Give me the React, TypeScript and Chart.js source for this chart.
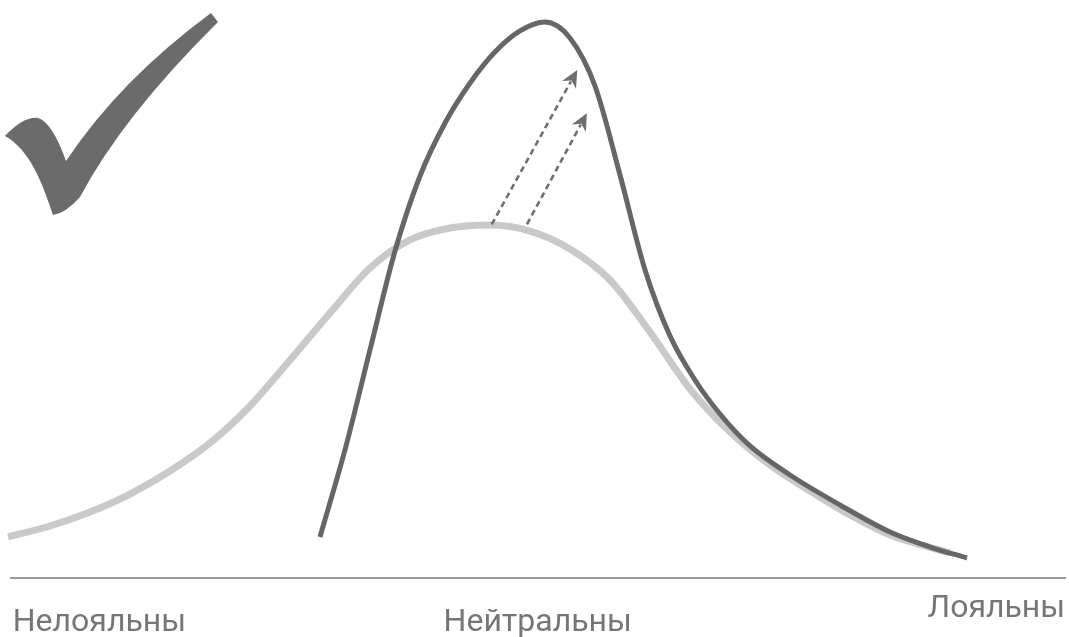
import React, { useEffect, useRef } from "react";
import { Chart, registerables } from "chart.js";

Chart.register(...registerables);

// Horizontal axis: loyalty (0 = disloyal, 100 = loyal); vertical axis: share of customers
const lightX = [0.75, 4.68, 8.42, 12.16, 15.9, 19.64, 23.39, 27.13, 30.87, 34.61, 38.35, 42.1, 45.84, 49.58, 53.32, 57.06, 60.8, 64.55, 68.29, 72.03, 75.77, 79.51, 83.26, 88.87];
const lightY = [7.09, 9.0, 11.42, 14.53, 18.51, 23.36, 29.76, 37.72, 45.85, 53.63, 58.48, 60.55, 61.07, 60.03, 56.92, 51.56, 42.56, 32.7, 25.26, 19.55, 15.05, 10.9, 7.44, 4.33];

const darkX = [29.93, 32.27, 34.61, 36.95, 39.29, 41.63, 43.97, 46.3, 48.64, 50.98, 53.32, 55.66, 58.0, 60.34, 62.68, 65.01, 67.35, 70.16, 73.9, 78.58, 83.26, 87.0, 90.46];
const darkY = [7.09, 22.15, 39.45, 56.57, 69.55, 78.72, 85.64, 91.0, 94.64, 96.19, 93.43, 85.12, 69.72, 53.29, 41.87, 34.26, 28.37, 22.84, 17.82, 12.63, 7.96, 5.36, 3.46];

const arrowStartX = [46.0, 49.3];
const arrowStartY = [61.2, 61.2];
const arrowEndX = [54.0, 54.9];
const arrowEndY = [87.9, 80.4];

const axisLabels = ["Нелояльны", "Нейтральны", "Лояльны"];
const axisLabelX = [9.3, 50.3, 93.2];

const toPoints = (xs: number[], ys: number[]) => xs.map((x, i) => ({ x, y: ys[i] }));

const decorPlugin = {
  id: "decor",
  afterDatasetsDraw(chart: any) {
    const { ctx, scales, chartArea } = chart;
    const xs = scales.x;
    const ys = scales.y;
    ctx.save();

    // baseline axis
    const by = ys.getPixelForValue(0);
    ctx.strokeStyle = "#9a9a9a";
    ctx.lineWidth = 2;
    ctx.beginPath();
    ctx.moveTo(chartArea.left + 10, by);
    ctx.lineTo(chartArea.right - 3, by);
    ctx.stroke();

    // dashed arrows
    for (let i = 0; i < arrowStartX.length; i++) {
      const x0 = xs.getPixelForValue(arrowStartX[i]);
      const y0 = ys.getPixelForValue(arrowStartY[i]);
      const x1 = xs.getPixelForValue(arrowEndX[i]);
      const y1 = ys.getPixelForValue(arrowEndY[i]);
      const ang = Math.atan2(y1 - y0, x1 - x0);
      const head = 17;
      const half = 8;
      const lx = x1 - Math.cos(ang) * head;
      const ly = y1 - Math.sin(ang) * head;
      ctx.strokeStyle = "#6f6f6f";
      ctx.lineWidth = 2.6;
      ctx.setLineDash([6, 4]);
      ctx.beginPath();
      ctx.moveTo(x0, y0);
      ctx.lineTo(lx + Math.cos(ang) * 4, ly + Math.sin(ang) * 4);
      ctx.stroke();
      ctx.setLineDash([]);
      ctx.fillStyle = "#6f6f6f";
      ctx.beginPath();
      ctx.moveTo(x1, y1);
      ctx.lineTo(lx + Math.cos(ang + Math.PI / 2) * half, ly + Math.sin(ang + Math.PI / 2) * half);
      ctx.lineTo(lx + Math.cos(ang) * 5, ly + Math.sin(ang) * 5);
      ctx.lineTo(lx - Math.cos(ang + Math.PI / 2) * half, ly - Math.sin(ang + Math.PI / 2) * half);
      ctx.closePath();
      ctx.fill();
    }

    // check mark decoration
    ctx.fillStyle = "#6b6b6b";
    ctx.beginPath();
    ctx.moveTo(5, 136);
    ctx.quadraticCurveTo(24, 116, 38, 118);
    ctx.quadraticCurveTo(52, 122, 66, 161);
    ctx.quadraticCurveTo(120, 80, 211, 13);
    ctx.lineTo(218, 22);
    ctx.quadraticCurveTo(123, 116, 80, 197);
    ctx.quadraticCurveTo(66, 213, 53, 215);
    ctx.bezierCurveTo(42, 182, 30, 150, 5, 136);
    ctx.closePath();
    ctx.fill();

    // axis labels
    ctx.font = "32px Roboto";
    ctx.fillStyle = "#767676";
    ctx.textAlign = "center";
    ctx.textBaseline = "alphabetic";
    const drop = [53, 53, 39];
    axisLabels.forEach((t, i) => {
      ctx.fillText(t, xs.getPixelForValue(axisLabelX[i]), by + drop[i]);
    });
    ctx.restore();
  },
};

export default function App() {
  const ref = useRef<HTMLCanvasElement | null>(null);
  useEffect(() => {
    document.body.style.margin = "0";
    if (!ref.current) return;
    const chart = new Chart(ref.current, {
      type: "line",
      data: {
        datasets: [
          {
            label: "После",
            data: toPoints(darkX, darkY),
            borderColor: "#666666",
            borderWidth: 5,
            pointRadius: 0,
            cubicInterpolationMode: "monotone",
            fill: false,
            order: 0,
          },
          {
            label: "До",
            data: toPoints(lightX, lightY),
            borderColor: "#c9c9c9",
            borderWidth: 7,
            pointRadius: 0,
            cubicInterpolationMode: "monotone",
            fill: false,
            order: 1,
          },
        ],
      },
      options: {
        animation: false,
        responsive: true,
        maintainAspectRatio: false,
        layout: { padding: { left: 0, right: 0, top: 0, bottom: 59 } },
        plugins: { legend: { display: false }, tooltip: { enabled: false } },
        scales: {
          x: { type: "linear", min: 0, max: 100, display: false },
          y: { type: "linear", min: 0, max: 100, display: false },
        },
      },
      plugins: [decorPlugin],
    });
    return () => chart.destroy();
  }, []);
  return (
    <div style={{ position: "fixed", left: 0, top: 0, width: 1069, height: 637, background: "#fff" }}>
      <canvas ref={ref} />
    </div>
  );
}
